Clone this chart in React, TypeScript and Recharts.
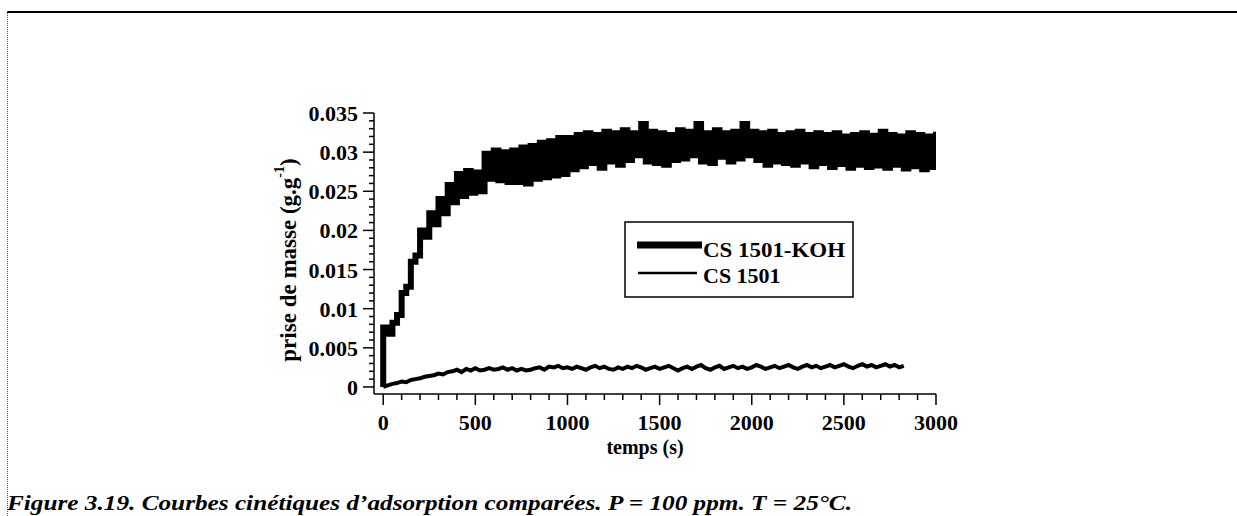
import React from 'react';
import { LineChart, Line, XAxis, YAxis, Legend } from 'recharts';

const FONT = '"Liberation Serif", "Times New Roman", serif';

const kohTime = [
  0, 0, 25, 50, 75, 100, 125, 150, 175, 200, 225, 250, 275, 300, 325, 350, 375, 400, 425, 450, 475, 500,
  525, 550, 575, 600, 625, 650, 675, 700, 725, 750, 775, 800, 825, 850, 875, 900, 925, 950, 975, 1000,
  1025, 1050, 1075, 1100, 1125, 1150, 1175, 1200, 1225, 1250, 1275, 1300, 1325, 1350, 1375, 1400, 1425, 1450, 1475, 1500,
  1525, 1550, 1575, 1600, 1625, 1650, 1675, 1700, 1725, 1750, 1775, 1800, 1825, 1850, 1875, 1900, 1925, 1950, 1975, 2000,
  2025, 2050, 2075, 2100, 2125, 2150, 2175, 2200, 2225, 2250, 2275, 2300, 2325, 2350, 2375, 2400, 2425, 2450, 2475, 2500,
  2525, 2550, 2575, 2600, 2625, 2650, 2675, 2700, 2725, 2750, 2775, 2800, 2825, 2850, 2875, 2900, 2925, 2950, 2975, 3000,
];
const kohMass = [
  0, 0.0076, 0.0068, 0.0082, 0.0092, 0.0120, 0.0128, 0.0160, 0.0168, 0.0200, 0.0192, 0.0222, 0.0208, 0.0240, 0.0222, 0.0258, 0.0236, 0.0272, 0.0244, 0.0276, 0.0248, 0.0274,
  0.0250, 0.0298, 0.0266, 0.0302, 0.0264, 0.0300, 0.0262, 0.0302, 0.0262, 0.0306, 0.0260, 0.0308, 0.0266, 0.0312, 0.0268, 0.0314, 0.0270, 0.0318, 0.0272, 0.0318,
  0.0278, 0.0322, 0.0282, 0.0324, 0.0286, 0.0322, 0.0280, 0.0326, 0.0288, 0.0324, 0.0284, 0.0328, 0.0290, 0.0324, 0.0296, 0.0336, 0.0288, 0.0326, 0.0286, 0.0324,
  0.0284, 0.0322, 0.0290, 0.0328, 0.0292, 0.0326, 0.0296, 0.0336, 0.0288, 0.0324, 0.0286, 0.0328, 0.0294, 0.0324, 0.0288, 0.0326, 0.0292, 0.0336, 0.0296, 0.0326,
  0.0290, 0.0324, 0.0284, 0.0326, 0.0288, 0.0322, 0.0286, 0.0324, 0.0284, 0.0326, 0.0288, 0.0322, 0.0282, 0.0324, 0.0286, 0.0322, 0.0281, 0.0324, 0.0285, 0.0320,
  0.0280, 0.0322, 0.0284, 0.0324, 0.0281, 0.0321, 0.0283, 0.0326, 0.0280, 0.0322, 0.0284, 0.0320, 0.0279, 0.0324, 0.0282, 0.0322, 0.0278, 0.0320, 0.0281, 0.0326,
];

const csTime = [
  0, 25, 50, 75, 100, 125, 150, 175, 200, 225, 250, 275, 300, 325, 350, 375, 400, 425, 450, 475, 500,
  525, 550, 575, 600, 625, 650, 675, 700, 725, 750, 775, 800, 825, 850, 875, 900, 925, 950, 975, 1000,
  1025, 1050, 1075, 1100, 1125, 1150, 1175, 1200, 1225, 1250, 1275, 1300, 1325, 1350, 1375, 1400, 1425, 1450, 1475, 1500,
  1525, 1550, 1575, 1600, 1625, 1650, 1675, 1700, 1725, 1750, 1775, 1800, 1825, 1850, 1875, 1900, 1925, 1950, 1975, 2000,
  2025, 2050, 2075, 2100, 2125, 2150, 2175, 2200, 2225, 2250, 2275, 2300, 2325, 2350, 2375, 2400, 2425, 2450, 2475, 2500,
  2525, 2550, 2575, 2600, 2625, 2650, 2675, 2700, 2725, 2750, 2775, 2800, 2825,
];
const csMass = [
  0.0000, 0.0002, 0.0004, 0.0005, 0.0007, 0.0006, 0.0009, 0.0010, 0.0011, 0.0013, 0.0014, 0.0015, 0.0017, 0.0016, 0.0019, 0.0020, 0.0022, 0.0019, 0.0023, 0.0021, 0.0024,
  0.0021, 0.0022, 0.0024, 0.0022, 0.0023, 0.0025, 0.0022, 0.0024, 0.0021, 0.0023, 0.0021, 0.0022, 0.0024, 0.0025, 0.0022, 0.0026, 0.0025, 0.0027, 0.0024, 0.0025,
  0.0023, 0.0026, 0.0024, 0.0022, 0.0025, 0.0027, 0.0024, 0.0026, 0.0023, 0.0022, 0.0025, 0.0023, 0.0026, 0.0024, 0.0027, 0.0025, 0.0022, 0.0024, 0.0026, 0.0023,
  0.0025, 0.0027, 0.0024, 0.0021, 0.0024, 0.0026, 0.0023, 0.0026, 0.0028, 0.0024, 0.0022, 0.0025, 0.0027, 0.0023, 0.0025, 0.0027, 0.0024, 0.0026, 0.0023, 0.0025,
  0.0028, 0.0026, 0.0023, 0.0025, 0.0027, 0.0024, 0.0026, 0.0028, 0.0025, 0.0023, 0.0026, 0.0028, 0.0025, 0.0027, 0.0024, 0.0026, 0.0028, 0.0025, 0.0027, 0.0029,
  0.0026, 0.0024, 0.0027, 0.0029, 0.0026, 0.0028, 0.0025, 0.0027, 0.0029, 0.0026, 0.0028, 0.0025, 0.0027,
];

const xTicks = [
  0, 100, 200, 300, 400, 500, 600, 700, 800, 900, 1000, 1100, 1200, 1300, 1400, 1500,
  1600, 1700, 1800, 1900, 2000, 2100, 2200, 2300, 2400, 2500, 2600, 2700, 2800, 2900, 3000,
];
const xMajor = [0, 500, 1000, 1500, 2000, 2500, 3000];
const yTicks = [
  0, 0.001, 0.002, 0.003, 0.004, 0.005, 0.006, 0.007, 0.008, 0.009, 0.01, 0.011, 0.012,
  0.013, 0.014, 0.015, 0.016, 0.017, 0.018, 0.019, 0.02, 0.021, 0.022, 0.023, 0.024, 0.025,
  0.026, 0.027, 0.028, 0.029, 0.03, 0.031, 0.032, 0.033, 0.034, 0.035,
];
const yMajorLabels = ['0', '0.005', '0.01', '0.015', '0.02', '0.025', '0.03', '0.035'];
const seriesNames = ['CS 1501-KOH', 'CS 1501'];
const xTitle = 'temps (s)';
const yTitleMain = 'prise de masse (g.g';
const yTitleSup = '-1';
const caption = 'Figure 3.19. Courbes cinétiques d\u2019adsorption comparées. P = 100 ppm. T = 25°C.';

const kohData = kohTime.map((t, i) => ({ t, m: kohMass[i] }));
const csData = csTime.map((t, i) => ({ t, m: csMass[i] }));

const XTick = (props: any) => {
  const { x, y, payload } = props;
  const v = payload.value;
  const major = xMajor.includes(v);
  return (
    <g>
      <line x1={x} x2={x} y1={y} y2={y + (major ? 11 : 6)} stroke="#000" strokeWidth={1.5} />
      {major && (
        <text x={x} y={y + 36} textAnchor="middle" fontFamily={FONT} fontWeight="bold" fontSize={22} fill="#000">
          {v}
        </text>
      )}
    </g>
  );
};

const YTick = (props: any) => {
  const { x, y, payload } = props;
  const k = Math.round(payload.value * 1000);
  const major = k % 5 === 0;
  return (
    <g>
      <line x1={x - (major ? 11 : 5)} x2={x} y1={y} y2={y} stroke="#000" strokeWidth={1.5} />
      {major && (
        <text x={x - 16} y={y + 8} textAnchor="end" fontFamily={FONT} fontWeight="bold" fontSize={22} fill="#000">
          {yMajorLabels[k / 5]}
        </text>
      )}
    </g>
  );
};

const YTitle = () => (
  <text
    x={288}
    y={260}
    transform="rotate(-90, 288, 260)"
    textAnchor="middle"
    dominantBaseline="central"
    fontFamily={FONT}
    fontWeight="bold"
    fontSize={23}
    fill="#000"
  >
    {yTitleMain}
    <tspan dy={-9} fontSize={14}>{yTitleSup}</tspan>
    <tspan dy={9}>)</tspan>
  </text>
);

const XTitle = () => (
  <text x={645} y={454} textAnchor="middle" fontFamily={FONT} fontWeight="bold" fontSize={20} fill="#000">
    {xTitle}
  </text>
);

const LegendBox = () => (
  <svg width={232} height={78} style={{ display: 'block' }}>
    <rect x={1} y={1} width={228} height={75} fill="#fff" stroke="#000" strokeWidth={1.5} />
    <line x1={13} x2={78} y1={24} y2={24} stroke="#000" strokeWidth={7} />
    <text x={79} y={36} fontFamily={FONT} fontWeight="bold" fontSize={22} fill="#000" textLength={142} lengthAdjust="spacingAndGlyphs">
      {seriesNames[0]}
    </text>
    <line x1={14} x2={73} y1={52} y2={52} stroke="#000" strokeWidth={2.5} />
    <text x={79} y={62} fontFamily={FONT} fontWeight="bold" fontSize={22} fill="#000">
      {seriesNames[1]}
    </text>
  </svg>
);

export default function App() {
  return (
    <div style={{ position: 'absolute', left: 0, top: 0, width: 1237, height: 516, background: '#fff', overflow: 'hidden' }}>
      <LineChart width={1237} height={516} margin={{ top: 113, right: 301, bottom: 82, left: 314 }}>
        <XAxis
          dataKey="t"
          type="number"
          domain={[-50, 3000]}
          ticks={xTicks}
          interval={0}
          allowDataOverflow
          height={40}
          tickSize={0}
          tickMargin={0}
          tickLine={false}
          tick={<XTick />}
          axisLine={{ stroke: '#000', strokeWidth: 1.5 }}
          label={<XTitle />}
        />
        <YAxis
          dataKey="m"
          type="number"
          domain={[-0.0009, 0.035]}
          ticks={yTicks}
          interval={0}
          allowDataOverflow
          width={60}
          tickSize={0}
          tickMargin={0}
          tickLine={false}
          tick={<YTick />}
          axisLine={{ stroke: '#000', strokeWidth: 1.5 }}
          label={<YTitle />}
        />
        <Legend
          layout="vertical"
          align="center"
          verticalAlign="middle"
          content={() => <LegendBox />}
          wrapperStyle={{ position: 'absolute', left: 624, top: 221, width: 232, height: 78 }}
        />
        <Line
          data={kohData}
          dataKey="m"
          name={seriesNames[0]}
          type="stepAfter"
          stroke="#000"
          strokeWidth={6}
          dot={false}
          activeDot={false}
          isAnimationActive={false}
        />
        <Line
          data={csData}
          dataKey="m"
          name={seriesNames[1]}
          type="linear"
          stroke="#000"
          strokeWidth={4}
          dot={false}
          activeDot={false}
          isAnimationActive={false}
        />
      </LineChart>
      <svg width={1237} height={516} style={{ position: 'absolute', left: 0, top: 0, pointerEvents: 'none' }}>
        <line x1={7} x2={1237} y1={12} y2={12} stroke="#000" strokeWidth={2} />
        <line x1={7.5} x2={7.5} y1={11} y2={516} stroke="#555" strokeWidth={1} strokeDasharray="1 1" />
        <text
          x={7}
          y={510}
          fontFamily={FONT}
          fontWeight="bold"
          fontStyle="italic"
          fontSize={22}
          fill="#000"
          textLength={845}
          lengthAdjust="spacingAndGlyphs"
        >
          {caption}
        </text>
      </svg>
    </div>
  );
}
